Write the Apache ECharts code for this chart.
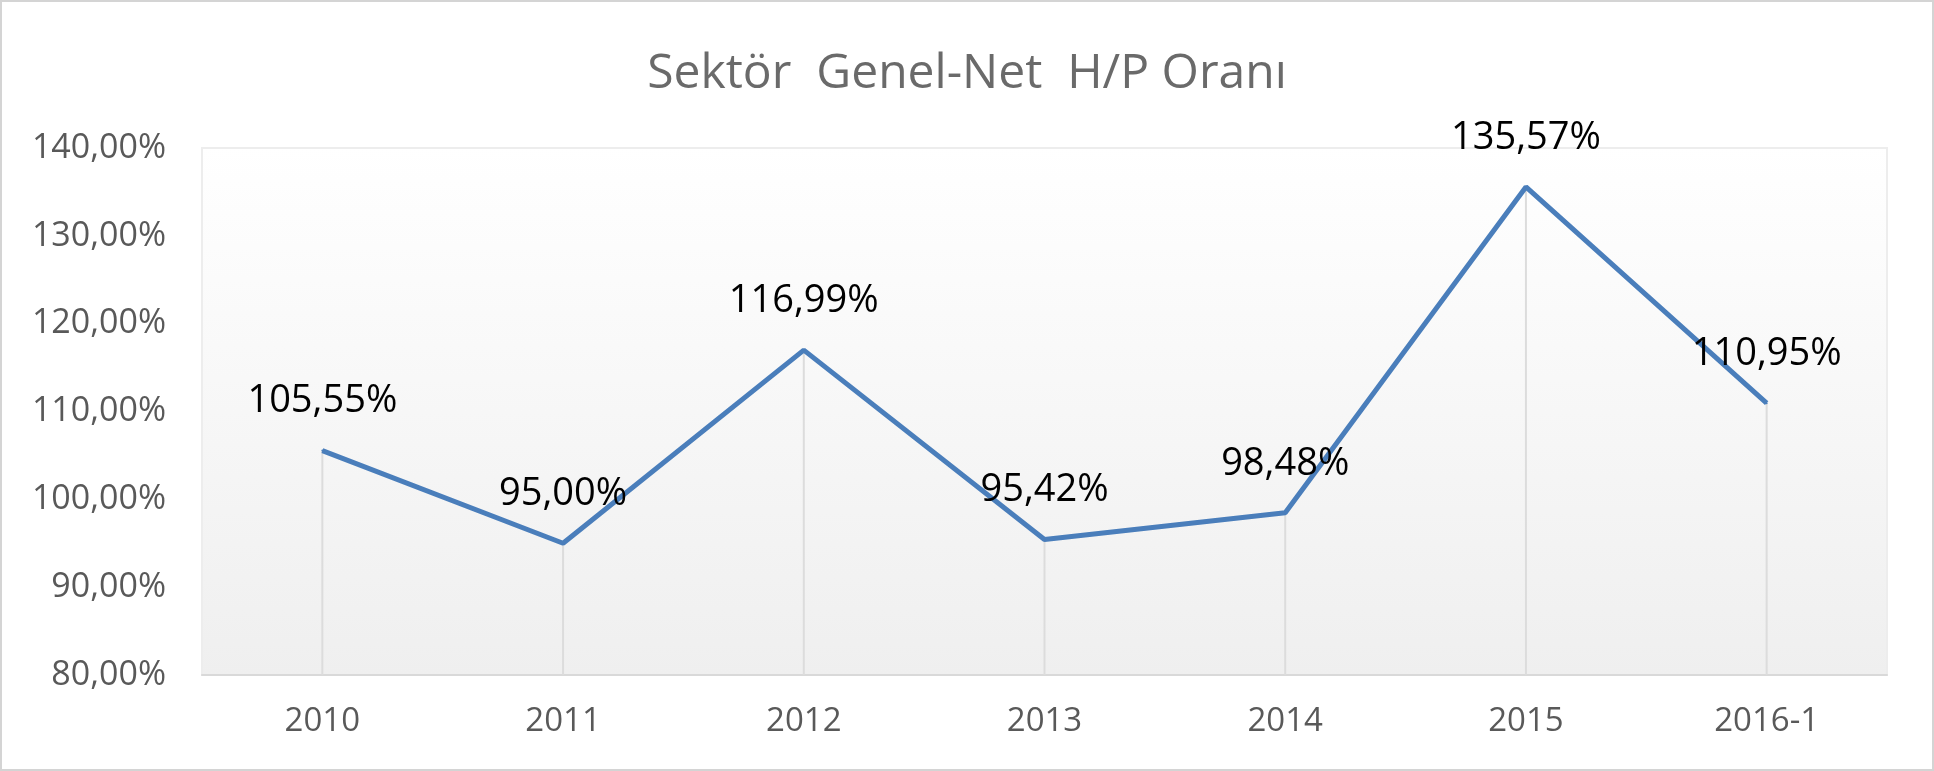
<!DOCTYPE html>
<html>
<head>
<meta charset="utf-8">
<script src="https://cdn.jsdelivr.net/npm/echarts@6/dist/echarts.min.js"></script>
<style>
    html, body { margin: 0; padding: 0; background: #fff; }
    #frame { width: 1930px; height: 767px; border: 2px solid #d4d4d4; box-sizing: content-box; }
    #chart { width: 1930px; height: 767px; }
</style>
</head>
<body>
<div id="frame"><div id="chart"></div></div>
<script>
    // yillar ve oranlar (%)
    const categories = ['2010', '2011', '2012', '2013', '2014', '2015', '2016-1'];
    const ratios = [105.55, 95.00, 116.99, 95.42, 98.48, 135.57, 110.95];
    const yTicks = [80, 90, 100, 110, 120, 130, 140];

    function fmtPercent(v) {
        return v.toFixed(2).replace('.', ',') + '%';
    }

    let chartDom = document.getElementById('chart');
    let myChart = echarts.init(chartDom);

    let option = {
        animation: false,
        title: {
            text: 'Sektör  Genel-Net  H/P Oranı',
            left: 'center',
            top: 43,
            textStyle: {
                fontFamily: 'Open Sans',
                fontSize: 48,
                fontWeight: 'normal',
                color: '#6a6a6a'
            }
        },
        grid: {
            left: 200,
            right: 45,
            top: 146,
            bottom: 94,
            show: true,
            borderColor: '#ededed',
            borderWidth: 2,
            backgroundColor: new echarts.graphic.LinearGradient(0, 0, 0, 1, [
                { offset: 0, color: '#ffffff' },
                { offset: 1, color: '#efefef' }
            ])
        },
        xAxis: {
            type: 'category',
            data: categories,
            boundaryGap: true,
            axisLine: { lineStyle: { color: '#d9d9d9', width: 2 } },
            axisTick: { show: false },
            axisLabel: {
                margin: 30,
                fontFamily: 'Open Sans',
                fontSize: 33,
                color: '#595959'
            }
        },
        yAxis: {
            type: 'value',
            min: yTicks[0],
            max: yTicks[yTicks.length - 1],
            interval: 10,
            axisLine: { show: false },
            axisTick: { show: false },
            splitLine: { show: false },
            axisLabel: {
                margin: 36,
                fontFamily: 'Open Sans',
                fontSize: 34,
                color: '#595959',
                formatter: function (v) { return fmtPercent(v); }
            }
        },
        series: [
            {
                // drop lines
                type: 'bar',
                data: ratios,
                barWidth: 2,
                silent: true,
                itemStyle: { color: '#dcdcdc' },
                z: 1
            },
            {
                type: 'line',
                data: ratios,
                showSymbol: true,
                symbol: 'circle',
                symbolSize: 2,
                itemStyle: { color: '#4a7ebb' },
                lineStyle: { color: '#4a7ebb', width: 5 },
                z: 3,
                label: {
                    show: true,
                    position: 'top',
                    distance: 29,
                    fontFamily: 'Open Sans',
                    fontSize: 38,
                    color: '#000',
                    formatter: function (params) { return fmtPercent(params.value); }
                }
            }
        ]
    };

    myChart.setOption(option);
</script>
</body>
</html>
